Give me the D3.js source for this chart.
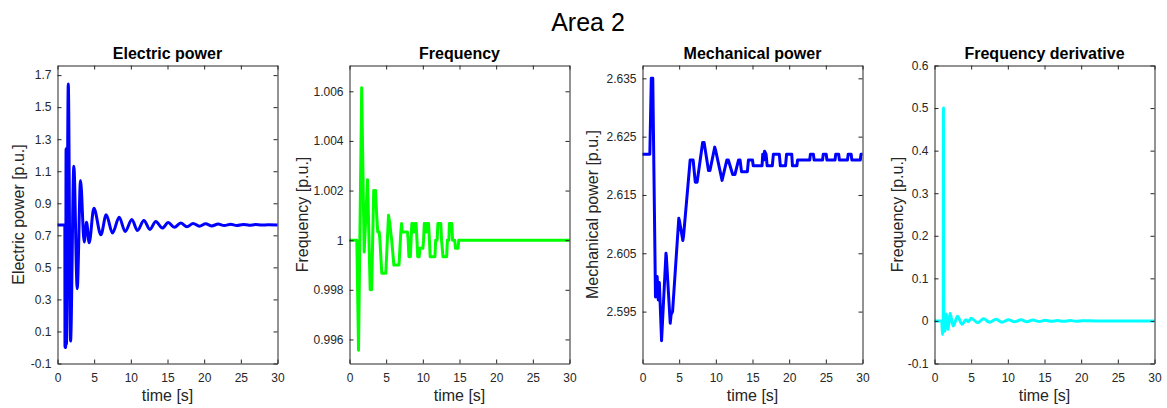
<!DOCTYPE html>
<html>
<head>
<meta charset="utf-8">
<script src="https://cdn.jsdelivr.net/npm/d3@7"></script>
<style>
  body { margin: 0; background: #fff; }
  svg { display: block; }
  text { font-family: "Liberation Sans", Arial, Helvetica, sans-serif; }
</style>
</head>
<body>
<svg id="fig" width="1167" height="408"></svg>
<script>
// ---- simulation traces (Area 2) ----
const timeTicks = [0, 5, 10, 15, 20, 25, 30];

const elecTime  = [0, 1.0, 1.02, 1.12, 1.17, 1.22, 1.47, 1.78, 2.23, 2.69, 3.14, 3.64, 3.96, 4.32, 4.96, 5.92,
                   6.64, 7.5, 8.41, 9.23, 10.14, 10.9, 11.78, 12.6, 13.4, 14.3, 15.1, 15.95, 16.8, 17.65, 18.5, 19.35,
                   20.2, 21.05, 21.9, 22.75, 23.6, 24.45, 25.3, 26.15, 27, 27.85, 28.7, 30];
const elecPower = [0.765, 0.765, 0.0, 0.0, 1.24, 0.02, 1.645, 0.04, 1.131, 0.367, 1.042, 0.658, 0.782, 0.654, 0.869, 0.704,
                   0.828, 0.714, 0.813, 0.724, 0.799, 0.73, 0.793, 0.737, 0.787, 0.745, 0.78, 0.75, 0.777, 0.754, 0.774, 0.757,
                   0.772, 0.759, 0.77, 0.761, 0.769, 0.762, 0.768, 0.763, 0.767, 0.764, 0.766, 0.765];
const elecTicks = [-0.1, 0.1, 0.3, 0.5, 0.7, 0.9, 1.1, 1.3, 1.5, 1.7];
const elecTickLabels = ["-0.1", "0.1", "0.3", "0.5", "0.7", "0.9", "1.1", "1.3", "1.5", "1.7"];

const freqTime  = [0, 1.0, 1.23, 1.66, 2.0, 2.46, 2.82, 3.02, 3.3, 3.55, 3.72, 3.85, 4.05, 4.15, 4.4, 4.95, 5.32, 5.5, 5.62, 5.75,
                   6.05, 6.75, 7.0, 7.1, 7.2, 7.9, 8.0, 8.1, 8.3, 8.4, 8.5, 8.62, 8.7, 8.85, 8.95, 9.08, 9.2, 9.3, 9.5, 9.6,
                   10.0, 10.1, 10.2, 10.35, 10.45, 10.6, 10.78, 10.9, 11.0, 11.65, 11.75, 11.95, 12.05, 12.45, 12.55, 12.75,
                   13.25, 13.35, 13.55, 13.62, 13.95, 14.05, 14.35, 14.45, 14.8, 14.9, 30];
const freqValue = [1, 1, 0.99556, 1.00614, 0.99952, 1.00244, 0.998, 0.998, 1.002, 1.002, 1.00093, 1.00033, 1.00033, 1, 0.99867, 0.99867, 1.001, 1.00067, 1.00033, 1,
                   0.999, 0.999, 1.00033, 1.00067, 1.00033, 1.00033, 1, 0.99933, 0.99933, 1, 1.00067, 1.00067, 1.00033, 1.00033, 1.00067, 1.00067, 1, 0.99933, 0.99933, 0.99967,
                   0.99967, 1, 1.00067, 1.00067, 1.00033, 1.00067, 1.00067, 1, 0.99933, 0.99933, 1, 1, 1.00067, 1.00067, 1, 0.99933,
                   0.99933, 1, 1, 1.00067, 1.00067, 1, 1, 0.99967, 0.99967, 1, 1];
const freqTicks = [0.996, 0.998, 1.0, 1.002, 1.004, 1.006];
const freqTickLabels = ["0.996", "0.998", "1", "1.002", "1.004", "1.006"];

const mechTime  = [0, 1.0, 1.2, 1.4, 1.77, 1.85, 2.0, 2.15, 2.3, 2.6, 3.2, 3.25, 3.78, 3.9, 4.1, 4.95, 5.05, 5.5, 5.6, 6.5,
                   6.9, 7.2, 7.45, 8.2, 8.4, 9.0, 9.2, 9.85, 10.0, 10.85, 11.5, 11.7, 12.3, 12.6, 13.1, 13.3, 13.5, 14.3, 14.45, 15.0,
                   15.1, 16.3, 16.4, 16.55, 16.65, 16.85, 17.0, 17.7, 17.85, 18.65, 18.8, 19.5, 19.65, 20.35, 20.45, 21.05, 21.15, 22.8, 22.9, 23.3,
                   23.4, 24.55, 24.65, 25.05, 25.15, 26.25, 26.35, 26.75, 26.85, 27.95, 28.05, 28.45, 28.55, 29.7, 29.8, 30];
const mechPower = [2.622, 2.622, 2.635, 2.635, 2.5975, 2.5985, 2.601, 2.597, 2.6, 2.59, 2.605, 2.6045, 2.593, 2.5945, 2.595, 2.611, 2.6105, 2.6072, 2.608, 2.621,
                   2.621, 2.6172, 2.6172, 2.624, 2.624, 2.6192, 2.6192, 2.6232, 2.6225, 2.6175, 2.621, 2.621, 2.6185, 2.6185, 2.621, 2.621, 2.619, 2.619, 2.621, 2.621,
                   2.62, 2.62, 2.622, 2.621, 2.6225, 2.622, 2.62, 2.62, 2.622, 2.622, 2.62, 2.62, 2.622, 2.622, 2.62, 2.62, 2.621, 2.621, 2.622, 2.622,
                   2.621, 2.621, 2.622, 2.622, 2.621, 2.621, 2.622, 2.622, 2.621, 2.621, 2.622, 2.622, 2.621, 2.621, 2.622, 2.622];
const mechTicks = [2.595, 2.605, 2.615, 2.625, 2.635];
const mechTickLabels = ["2.595", "2.605", "2.615", "2.625", "2.635"];

const dfTime  = [0, 1.0, 1.08, 1.18, 1.22, 1.26, 1.42, 1.62, 1.85, 2.12, 2.55, 3.15, 3.75, 4.3, 4.6, 5.0, 5.9, 6.7, 7.5, 8.4,
                 9.2, 10.1, 10.9, 11.8, 12.6, 13.4, 14.3, 15.1, 15.9, 16.8, 17.6, 18.5, 19.3, 20.2, 22, 30];
const dfValue = [0, 0, -0.032, -0.02, 0.5, 0, -0.024, 0.016, -0.02, 0.018, -0.012, 0.011, -0.008, 0.003, -0.002, 0.006, -0.004, 0.005, -0.003, 0.004,
                 -0.003, 0.003, -0.002, 0.0025, -0.002, 0.002, -0.0015, 0.0015, -0.001, 0.001, -0.001, 0.0008, -0.0006, 0.0005, 0, 0];
const dfTicks = [-0.1, 0, 0.1, 0.2, 0.3, 0.4, 0.5, 0.6];
const dfTickLabels = ["-0.1", "0", "0.1", "0.2", "0.3", "0.4", "0.5", "0.6"];

// ---- layout ----
const W = 1167, H = 408;
const TOP = 65.5, BOTTOM = 363.5;
const INK = "#262626";

const panels = [
  { title: "Electric power", ylabel: "Electric power [p.u.]", t: elecTime, v: elecPower,
    domain: [-0.1, 1.76], ticks: elecTicks, labels: elecTickLabels, color: "#0000ff",
    curve: d3.curveMonotoneX, x0: 57.5, x1: 277.5, labelGap: 34 },
  { title: "Frequency", ylabel: "Frequency [p.u.]", t: freqTime, v: freqValue,
    domain: [0.99503, 1.00704], ticks: freqTicks, labels: freqTickLabels, color: "#00ff00",
    curve: d3.curveLinear, x0: 349.5, x1: 569.5, labelGap: 42 },
  { title: "Mechanical power", ylabel: "Mechanical power [p.u.]", t: mechTime, v: mechPower,
    domain: [2.5861, 2.6372], ticks: mechTicks, labels: mechTickLabels, color: "#0000ff",
    curve: d3.curveLinear, x0: 642.5, x1: 862.5, labelGap: 45 },
  { title: "Frequency derivative", ylabel: "Frequency [p.u.]", t: dfTime, v: dfValue,
    domain: [-0.1, 0.6], ticks: dfTicks, labels: dfTickLabels, color: "#00ffff",
    curve: d3.curveMonotoneX, x0: 934.5, x1: 1154.5, labelGap: 32 }
];

const svg = d3.select("#fig");
svg.append("rect").attr("width", W).attr("height", H).attr("fill", "#fff");

svg.append("text")
  .attr("x", 588).attr("y", 31)
  .attr("text-anchor", "middle")
  .attr("font-size", 25)
  .attr("fill", "#000")
  .text("Area 2");

function styleAxis(sel) {
  sel.attr("font-family", '"Liberation Sans", Arial, Helvetica, sans-serif')
     .attr("font-size", 12);
  sel.selectAll("path.domain").attr("stroke", INK).attr("stroke-width", 1);
  sel.selectAll(".tick line").attr("stroke", INK).attr("stroke-width", 1);
  sel.selectAll(".tick text").attr("fill", INK);
}

panels.forEach((p, i) => {
  const x = d3.scaleLinear().domain([0, 30]).range([p.x0, p.x1]);
  const y = d3.scaleLinear().domain(p.domain).range([BOTTOM, TOP]);
  const g = svg.append("g");

  const clipId = "clip" + i;
  g.append("clipPath").attr("id", clipId)
    .append("rect")
    .attr("x", p.x0).attr("y", TOP)
    .attr("width", p.x1 - p.x0).attr("height", BOTTOM - TOP);

  const pts = p.t.map((t, k) => [t, p.v[k]]);
  const line = d3.line().x(d => x(d[0])).y(d => y(d[1])).curve(p.curve);

  g.append("path")
    .attr("clip-path", `url(#${clipId})`)
    .attr("d", line(pts))
    .attr("fill", "none")
    .attr("stroke", p.color)
    .attr("stroke-width", 3)
    .attr("stroke-linejoin", "round")
    .attr("stroke-linecap", "round");

  // box with inward ticks on all four sides
  g.append("g").attr("transform", `translate(0,${BOTTOM})`)
    .call(d3.axisBottom(x).tickValues(timeTicks).tickFormat(d3.format("d"))
      .tickSizeInner(-4).tickSizeOuter(0).tickPadding(10))
    .call(styleAxis);
  g.append("g").attr("transform", `translate(0,${TOP})`)
    .call(d3.axisTop(x).tickValues(timeTicks).tickFormat("")
      .tickSizeInner(-4).tickSizeOuter(0))
    .call(styleAxis);
  g.append("g").attr("transform", `translate(${p.x0},0)`)
    .call(d3.axisLeft(y).tickValues(p.ticks).tickFormat((d, k) => p.labels[k])
      .tickSizeInner(-4).tickSizeOuter(0).tickPadding(6))
    .call(styleAxis);
  g.append("g").attr("transform", `translate(${p.x1},0)`)
    .call(d3.axisRight(y).tickValues(p.ticks).tickFormat("")
      .tickSizeInner(-4).tickSizeOuter(0))
    .call(styleAxis);

  g.append("text")
    .attr("x", (p.x0 + p.x1) / 2).attr("y", 59)
    .attr("text-anchor", "middle")
    .attr("font-size", 16).attr("font-weight", "bold")
    .attr("fill", "#000")
    .text(p.title);

  g.append("text")
    .attr("x", (p.x0 + p.x1) / 2).attr("y", 401)
    .attr("text-anchor", "middle")
    .attr("font-size", 16)
    .attr("fill", INK)
    .text("time [s]");

  g.append("text")
    .attr("transform", `translate(${p.x0 - p.labelGap},${(TOP + BOTTOM) / 2}) rotate(-90)`)
    .attr("text-anchor", "middle")
    .attr("font-size", 16)
    .attr("fill", INK)
    .text(p.ylabel);
});
</script>
</body>
</html>
